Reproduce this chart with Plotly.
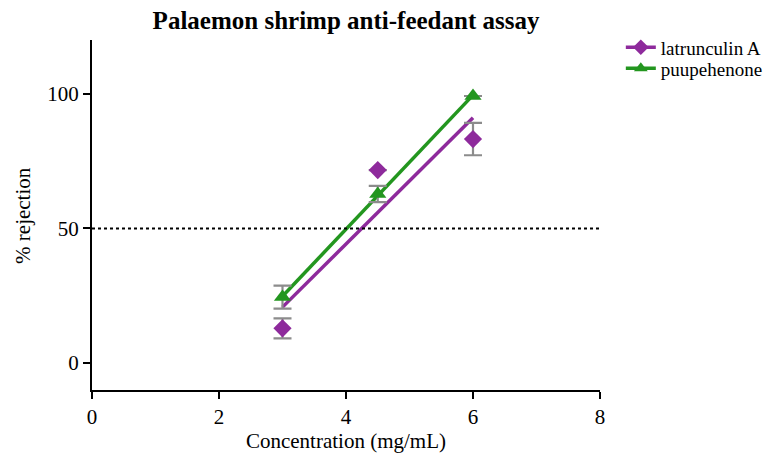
import numpy as np
import plotly.graph_objects as go

# Data
conc = [3, 4.5, 6]

latrunculin = [12.9, 71.7, 83.2]
latrunculin_err = [3.7, None, 6.0]

puupehenone = [24.5, 62.8, 99.2]
puupehenone_err = [4.3, 3.0, None]

threshold = 50

purple = "#8E2A9C"
green = "#23961F"
grey = "#8C8C8C"
font_family = "Liberation Serif, Times New Roman, serif"

fig = go.Figure()

# linear fits through each series
for ys, col in [(latrunculin, purple), (puupehenone, green)]:
    slope, icpt = np.polyfit(conc, ys, 1)
    xs = np.array([min(conc), max(conc)])
    fig.add_trace(go.Scatter(x=xs, y=slope * xs + icpt, mode="lines",
                             line=dict(color=col, width=3.5),
                             showlegend=False, hoverinfo="skip"))

fig.add_trace(go.Scatter(
    x=conc, y=latrunculin, mode="markers", name="latrunculin A",
    marker=dict(symbol="diamond", size=14, color=purple),
    error_y=dict(type="data", array=latrunculin_err, color=grey, thickness=2.2, width=9),
    showlegend=False))
fig.add_trace(go.Scatter(
    x=conc, y=puupehenone, mode="markers", name="puupehenone",
    marker=dict(symbol="triangle-up", size=15, color=green),
    error_y=dict(type="data", array=puupehenone_err, color=grey, thickness=2.2, width=9),
    showlegend=False))

# legend entries (line + marker), one legend box each so the spacing can match
fig.add_trace(go.Scatter(x=[None], y=[None], mode="lines+markers", name="latrunculin A",
                         line=dict(color=purple, width=3.5),
                         marker=dict(symbol="diamond", size=12, color=purple),
                         legend="legend"))
fig.add_trace(go.Scatter(x=[None], y=[None], mode="lines+markers", name="puupehenone",
                         line=dict(color=green, width=3.5),
                         marker=dict(symbol="triangle-up", size=12, color=green),
                         legend="legend2"))

fig.add_shape(type="line", x0=0, x1=8, y0=threshold, y1=threshold, xref="x", yref="y",
              line=dict(color="black", width=2, dash="dot"))

# y title as an annotation so it can sit further left than the axis standoff allows
fig.add_annotation(text="% rejection", textangle=-90, xref="paper", yref="paper",
                   x=-0.136, y=0.5, xanchor="center", yanchor="middle",
                   showarrow=False, font=dict(size=21))

leg = dict(xanchor="left", yanchor="top", font=dict(size=19), itemwidth=30,
           bgcolor="rgba(0,0,0,0)")

# body has an 8px margin, so margins are offset to land the plot area where the reference has it
fig.update_layout(
    width=776, height=460,
    margin=dict(l=84, r=184, t=32, b=78, autoexpand=False),
    plot_bgcolor="white", paper_bgcolor="white",
    font=dict(family=font_family, size=21, color="black"),
    title=dict(text="<b>Palaemon shrimp anti-feedant assay</b>",
               x=0.4356, xanchor="center", y=0.974, yanchor="middle",
               font=dict(size=25)),
    legend=dict(x=1.041, y=1.033, **leg),
    legend2=dict(x=1.041, y=0.973, **leg),
    xaxis=dict(range=[0, 8], tickvals=[0, 2, 4, 6, 8], showgrid=False, zeroline=False,
               showline=True, linecolor="black", linewidth=2,
               ticks="outside", ticklen=7, tickwidth=2, tickcolor="black",
               tickfont=dict(size=21),
               title=dict(text="Concentration (mg/mL)", standoff=0, font=dict(size=21))),
    yaxis=dict(range=[-10, 120], tickvals=[0, 50, 100], showgrid=False, zeroline=False,
               showline=True, linecolor="black", linewidth=2,
               ticks="outside", ticklen=7, tickwidth=2, tickcolor="black",
               tickfont=dict(size=21)),
)

fig.write_html("out.html")
